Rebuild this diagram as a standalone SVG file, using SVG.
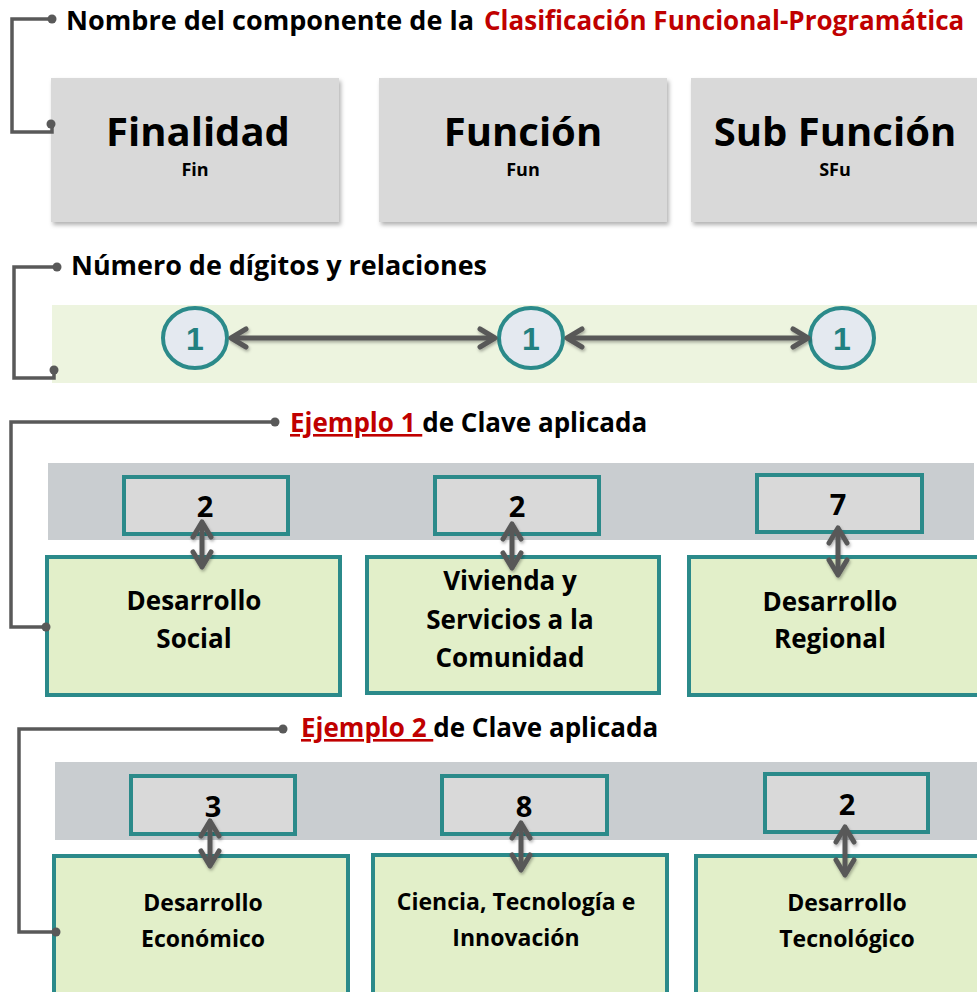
<svg xmlns="http://www.w3.org/2000/svg" width="977" height="992" viewBox="0 0 977 992">
<defs>
<style>
.t{font-family:"Open Sans","Noto Sans","Liberation Sans",sans-serif;font-weight:bold;fill:#000}
.red{fill:#C00000}
.top{fill:#D9D9D9;filter:url(#sh)}
.num{fill:#D9D9D9;stroke:#2B8A8A;stroke-width:4}
.grn{fill:#E2EFC9;stroke:#2B8A8A;stroke-width:4}
.band-g{fill:#EDF4DF}
.band-s{fill:#C9CDD0}
.circ{fill:#E4E9F0;stroke:#2B8A8A;stroke-width:4}
.ct{font-family:"Liberation Sans",Arial,sans-serif;font-weight:bold;fill:#228080;font-size:32px}
.conn{fill:none;stroke:#595959;stroke-width:3.5}
.dot{fill:#595959}
.arr{fill:none;stroke:#595959;stroke-width:5;marker-start:url(#ch);marker-end:url(#ch)}
</style>
<filter id="sh" x="-5%" y="-5%" width="115%" height="120%">
<feDropShadow dx="2" dy="3" stdDeviation="2" flood-color="#000" flood-opacity="0.3"/>
</filter>
<filter id="ash" filterUnits="userSpaceOnUse" x="0" y="0" width="977" height="992">
<feDropShadow dx="1" dy="2" stdDeviation="1.5" flood-color="#000" flood-opacity="0.3"/>
</filter>
<marker id="ch" viewBox="-20 -12 24 24" markerWidth="24" markerHeight="24" refX="0" refY="0" markerUnits="userSpaceOnUse" orient="auto-start-reverse">
<path d="M-15,-9 L0,0 L-15,9" fill="none" stroke="#595959" stroke-width="5" stroke-linecap="round" stroke-linejoin="round"/>
</marker>
</defs>
<rect width="977" height="992" fill="#fff"/>

<!-- Section 1 -->
<g id="title1">
<text class="t" x="66" y="30" font-size="27" textLength="408" lengthAdjust="spacingAndGlyphs">Nombre del componente de la</text>
<text class="t red" x="484" y="30" font-size="26">Clasificación Funcional-Programática</text>
</g>
<g id="finalidad">
<rect class="top" x="51" y="78" width="288" height="144"/>
<text class="t" x="198" y="146" font-size="40" text-anchor="middle">Finalidad</text>
<text class="t" x="195" y="176" font-size="18" text-anchor="middle">Fin</text>
</g>
<g id="funcion">
<rect class="top" x="379" y="78" width="288" height="144"/>
<text class="t" x="523" y="146" font-size="40" text-anchor="middle">Función</text>
<text class="t" x="523" y="176" font-size="18" text-anchor="middle">Fun</text>
</g>
<g id="subfuncion">
<rect class="top" x="691" y="78" width="300" height="144"/>
<text class="t" x="835" y="146" font-size="40" text-anchor="middle">Sub Función</text>
<text class="t" x="835" y="176" font-size="18" text-anchor="middle">SFu</text>
</g>

<!-- Section 2 -->
<g id="title2">
<text class="t" x="71" y="275" font-size="26" textLength="416" lengthAdjust="spacingAndGlyphs">Número de dígitos y relaciones</text>
</g>
<rect class="band-g" x="52" y="305" width="925" height="78"/>
<g id="d1"><ellipse class="circ" cx="195" cy="338" rx="32" ry="30"/><text class="ct" x="195" y="350" text-anchor="middle">1</text></g>
<g id="d2"><ellipse class="circ" cx="531" cy="338" rx="32" ry="30"/><text class="ct" x="531" y="350" text-anchor="middle">1</text></g>
<g id="d3"><ellipse class="circ" cx="842" cy="338" rx="32" ry="30"/><text class="ct" x="842" y="350" text-anchor="middle">1</text></g>

<!-- Section 3 -->
<g id="title3">
<text class="t" x="290" y="432" font-size="26"><tspan class="red" text-decoration="underline">Ejemplo 1 </tspan>de Clave aplicada</text>
</g>
<rect class="band-s" x="48" y="463" width="926" height="77"/>
<g id="e1n1"><rect class="num" x="124" y="477" width="164" height="57"/><text class="t" x="205" y="517" font-size="29" text-anchor="middle">2</text></g>
<g id="e1n2"><rect class="num" x="435" y="477" width="164" height="57"/><text class="t" x="517" y="517" font-size="29" text-anchor="middle">2</text></g>
<g id="e1n3"><rect class="num" x="757" y="475" width="165" height="57"/><text class="t" x="838" y="515" font-size="29" text-anchor="middle">7</text></g>
<g id="e1b1"><rect class="grn" x="47" y="557" width="293" height="138"/>
<text class="t" x="194" y="610" font-size="26" text-anchor="middle">Desarrollo</text>
<text class="t" x="194" y="648" font-size="26" text-anchor="middle">Social</text></g>
<g id="e1b2"><rect class="grn" x="367" y="557" width="292" height="136"/>
<text class="t" x="510" y="590" font-size="26" text-anchor="middle">Vivienda y</text>
<text class="t" x="510" y="629" font-size="26" text-anchor="middle">Servicios a la</text>
<text class="t" x="510" y="667" font-size="26" text-anchor="middle">Comunidad</text></g>
<g id="e1b3"><rect class="grn" x="689" y="557" width="300" height="138"/>
<text class="t" x="830" y="611" font-size="26" text-anchor="middle">Desarrollo</text>
<text class="t" x="830" y="648" font-size="26" text-anchor="middle">Regional</text></g>

<!-- Section 4 -->
<g id="title4">
<text class="t" x="301" y="737" font-size="26"><tspan class="red" text-decoration="underline">Ejemplo 2 </tspan>de Clave aplicada</text>
</g>
<rect class="band-s" x="55" y="762" width="922" height="78"/>
<g id="e2n1"><rect class="num" x="131" y="776" width="164" height="58"/><text class="t" x="213" y="817" font-size="29" text-anchor="middle">3</text></g>
<g id="e2n2"><rect class="num" x="442" y="776" width="165" height="58"/><text class="t" x="524" y="817" font-size="29" text-anchor="middle">8</text></g>
<g id="e2n3"><rect class="num" x="765" y="774" width="163" height="58"/><text class="t" x="847" y="815" font-size="29" text-anchor="middle">2</text></g>
<g id="e2b1"><rect class="grn" x="54" y="856" width="294" height="150"/>
<text class="t" x="203" y="911" font-size="23" text-anchor="middle">Desarrollo</text>
<text class="t" x="203" y="947" font-size="23" text-anchor="middle">Económico</text></g>
<g id="e2b2"><rect class="grn" x="373" y="855" width="294" height="150"/>
<text class="t" x="516" y="910" font-size="23" text-anchor="middle">Ciencia, Tecnología e</text>
<text class="t" x="516" y="946" font-size="23" text-anchor="middle">Innovación</text></g>
<g id="e2b3"><rect class="grn" x="696" y="856" width="300" height="150"/>
<text class="t" x="847" y="911" font-size="23" text-anchor="middle">Desarrollo</text>
<text class="t" x="847" y="947" font-size="23" text-anchor="middle">Tecnológico</text></g>

<!-- Connectors -->
<g id="connectors">
<path class="conn" d="M52,19 H12 V132 H52 V125"/>
<circle class="dot" cx="52" cy="19" r="4.5"/>
<circle class="dot" cx="51" cy="124" r="4.5"/>
<path class="conn" d="M57,267 H14 V378 H54 V371"/>
<circle class="dot" cx="57" cy="267" r="4.5"/>
<circle class="dot" cx="54" cy="370" r="4.5"/>
<path class="conn" d="M275,422 H11 V627 H47"/>
<circle class="dot" cx="275" cy="422" r="4.5"/>
<circle class="dot" cx="46" cy="627" r="4.5"/>
<path class="conn" d="M283,729 H19 V932 H56"/>
<circle class="dot" cx="283" cy="729" r="4.5"/>
<circle class="dot" cx="56" cy="932" r="4.5"/>
<g filter="url(#ash)">
<path class="arr" d="M231,338 H495"/>
<path class="arr" d="M567,338 H808"/>
<path class="arr" d="M202,522 V567"/>
<path class="arr" d="M512,524 V568"/>
<path class="arr" d="M838,528 V575"/>
<path class="arr" d="M210,821 V866"/>
<path class="arr" d="M521,823 V870"/>
<path class="arr" d="M845,827 V875"/>
</g>
</g>
</svg>
